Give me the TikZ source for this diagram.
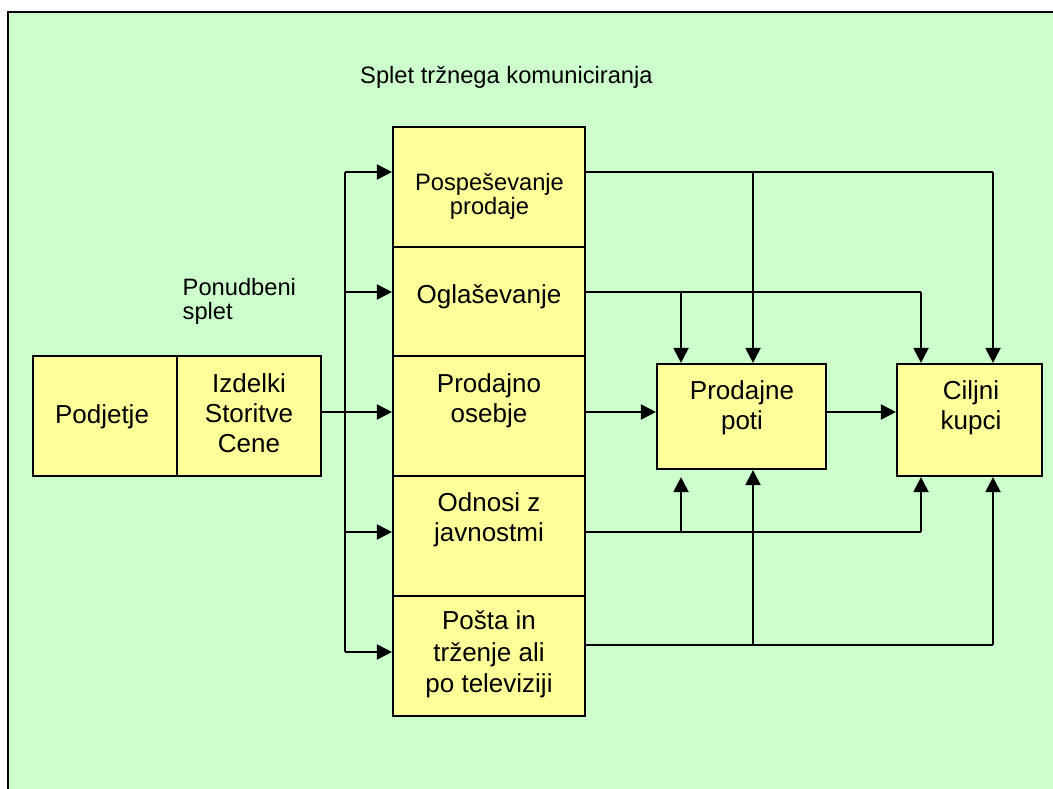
\documentclass[tikz,border=0pt]{standalone}
\usepackage{fontspec}
\setmainfont{Liberation Sans}
\usetikzlibrary{arrows.meta}
\definecolor{bggreen}{HTML}{CCFFCC}
\definecolor{boxyellow}{HTML}{FFFF99}
\newcommand\mylines[2][c]{\begin{tabular}[t]{@{}#1@{}}#2\end{tabular}}
\begin{document}
\begin{tikzpicture}[x=1pt,y=-1pt,
  box/.style={draw=black,fill=boxyellow,line width=2.2pt,inner sep=0pt},
  conn/.style={line width=2.2pt},
  arr/.style={conn,-{Triangle[length=15pt,width=15pt]}},
  big/.style={inner sep=0pt,anchor=base,font=\fontsize{26}{30}\selectfont},
  small/.style={inner sep=0pt,font=\fontsize{23.7}{24.5}\selectfont}]
\useasboundingbox (0,0) rectangle (1053,789);
\clip (0,0) rectangle (1053,789);
\draw[fill=bggreen,line width=2.2pt] (8,12) rectangle (1070,810);

% boxes
\node[box,minimum width=192pt,minimum height=120pt] (pos) at (489,187) {};
\node[box,minimum width=192pt,minimum height=109pt] (ogl) at (489,301.5) {};
\node[box,minimum width=192pt,minimum height=120pt] (pro) at (489,416) {};
\node[box,minimum width=192pt,minimum height=120pt] (odn) at (489,536) {};
\node[box,minimum width=192pt,minimum height=120pt] (pta) at (489,656) {};
\node[box,minimum width=144pt,minimum height=120pt] (podj) at (105,416) {};
\node[box,minimum width=144pt,minimum height=120pt] (izd) at (249,416) {};
\node[box,minimum width=169pt,minimum height=105pt] (pp) at (741.5,416.5) {};
\node[box,minimum width=145pt,minimum height=112pt] (ck) at (969.5,420) {};

% junction coordinates
\coordinate (b1) at (345,172);
\coordinate (b2) at (345,292);
\coordinate (b4) at (345,532);
\coordinate (b5) at (345,652);
\coordinate (i1) at (izd.east |- 0,412);
\coordinate (r1) at (pos.east |- 0,172);
\coordinate (r2) at (ogl.east |- 0,292);
\coordinate (r3) at (pro.east |- 0,412);
\coordinate (r4) at (odn.east |- 0,532);
\coordinate (r5) at (pta.east |- 0,645);
\coordinate (j1) at (753,172);
\coordinate (j2) at (681,292);
\coordinate (j4) at (681,532);
\coordinate (j5) at (753,645);
\coordinate (e1) at (993,172);
\coordinate (e2) at (921,292);
\coordinate (e4) at (921,532);
\coordinate (e5) at (993,645);

% left bus
\draw[conn] (b1) -- (b5);
\draw[arr] (b1) -- (b1 -| pos.west);
\draw[arr] (b2) -- (b2 -| ogl.west);
\draw[arr] (i1) -- (i1 -| pro.west);
\draw[arr] (b4) -- (b4 -| odn.west);
\draw[arr] (b5) -- (b5 -| pta.west);

% right side
\draw[conn] (r1) -- (e1);
\draw[arr] (e1) -- (e1 |- ck.north);
\draw[arr] (j1) -- (j1 |- pp.north);
\draw[conn] (r2) -- (e2);
\draw[arr] (e2) -- (e2 |- ck.north);
\draw[arr] (j2) -- (j2 |- pp.north);
\draw[arr] (r3) -- (r3 -| pp.west);
\draw[arr] (pp.east |- r3) -- (r3 -| ck.west);
\draw[conn] (r4) -- (e4);
\draw[arr] (e4) -- (e4 |- ck.south);
\draw[arr] (j4) -- ([yshift=-7pt]j4 |- pp.south);
\draw[conn] (r5) -- (e5);
\draw[arr] (e5) -- (e5 |- ck.south);
\draw[arr] (j5) -- (j5 |- pp.south);

% texts
\node[small,anchor=base west] (title) at (360,83.5) {Splet tržnega komuniciranja};
\node[small,anchor=base west] (ponud) at (182.5,295) {\mylines[l]{Ponudbeni\\splet}};
\node[small,anchor=base] (tpos) at (489.5,190) {\mylines{Pospeševanje\\prodaje}};
\node[big] (togl) at (489,303) {Oglaševanje};
\node[big] (tpro) at (489,392) {\mylines{Prodajno\\osebje}};
\node[big] (todn) at (489,511) {\mylines{Odnosi z\\javnostmi}};
\node[big,font=\fontsize{26}{31.7}\selectfont] (tpta) at (489,629.5) {\mylines{Pošta in\\trženje ali\\po televiziji}};
\node[big] (tpodj) at (102,423) {Podjetje};
\node[big] (tizd) at (249,392.3) {\mylines{Izdelki\\Storitve\\Cene}};
\node[big] (tpp) at (742,399.5) {\mylines{Prodajne\\poti}};
\node[big] (tck) at (971,399.5) {\mylines{Ciljni\\kupci}};
\end{tikzpicture}
\end{document}
